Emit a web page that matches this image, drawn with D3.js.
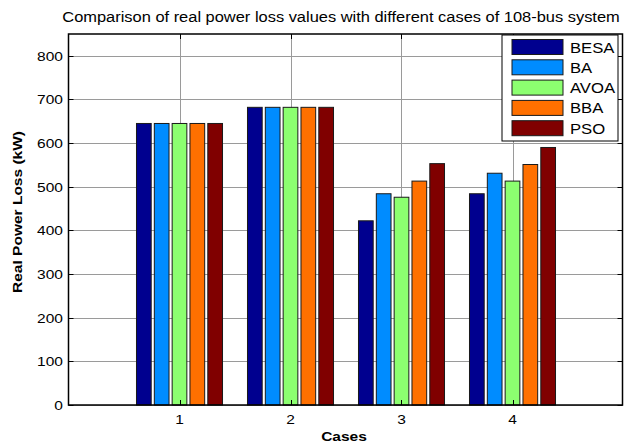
<!DOCTYPE html>
<html>
<head>
<meta charset="utf-8">
<script src="https://cdn.jsdelivr.net/npm/d3@7"></script>
<style>
  html, body { margin: 0; padding: 0; background: #fff; }
  svg { display: block; font-family: "Liberation Sans", Arial, sans-serif; }
</style>
</head>
<body>
<svg id="chart" width="624" height="444"></svg>
<script>
// Real power loss (kW) per case for each algorithm
const cases = [1, 2, 3, 4];
const series = ["BESA", "BA", "AVOA", "BBA", "PSO"];
const besa = [645, 682, 422, 484];
const ba   = [645, 682, 484, 531];
const avoa = [645, 682, 476, 513];
const bba  = [645, 682, 513, 551];
const pso  = [645, 682, 553, 590];
const yTicks = [0, 100, 200, 300, 400, 500, 600, 700, 800];
const colors = ["#00008f", "#008cff", "#8cff70", "#ff7000", "#800000"];

const values = [besa, ba, avoa, bba, pso];

const svg = d3.select("#chart");
const plotL = 68.5, plotR = 622.5, plotT = 34, plotB = 405;
const SX = 1.15; // horizontal text stretch

const x = d3.scaleLinear().domain([0, 5]).range([plotL, plotL + 555]);
const y = d3.scaleLinear().domain([0, 850]).range([plotB, plotT]);

// position of each series inside a group, in case units
const inner = d3.scaleBand().domain(series).range([-0.3875, 0.3875]).paddingInner(0.175).paddingOuter(0);

function stretchedText(g, str, px, py, size, anchor, weight) {
  return g.append("text")
    .attr("transform", `translate(${px},${py}) scale(${SX},1)`)
    .attr("text-anchor", anchor)
    .attr("font-size", size)
    .attr("font-weight", weight || "normal")
    .attr("fill", "#000")
    .text(str);
}

// plot background
svg.append("rect").attr("x", plotL).attr("y", plotT)
  .attr("width", plotR - plotL).attr("height", plotB - plotT).attr("fill", "#fff");

// grid
const grid = svg.append("g").attr("stroke", "#9a9a9a").attr("stroke-width", 1);
yTicks.forEach(t => {
  grid.append("line").attr("x1", plotL).attr("x2", plotR)
    .attr("y1", Math.round(y(t)) + 0.5).attr("y2", Math.round(y(t)) + 0.5);
});
cases.forEach(c => {
  grid.append("line").attr("x1", Math.round(x(c)) + 0.5).attr("x2", Math.round(x(c)) + 0.5)
    .attr("y1", plotT).attr("y2", plotB);
});

// bars
const bars = svg.append("g");
series.forEach((s, si) => {
  bars.selectAll(null).data(cases).enter().append("rect")
    .attr("x", c => x(c + inner(s)))
    .attr("width", x(inner.bandwidth()) - x(0))
    .attr("y", (c, ci) => y(values[si][ci]))
    .attr("height", (c, ci) => y(0) - y(values[si][ci]))
    .attr("fill", colors[si])
    .attr("stroke", "#1a1a1a")
    .attr("stroke-width", 1);
});

// axes box and inward ticks
const ax = svg.append("g").attr("stroke", "#000");
ax.append("rect").attr("x", plotL).attr("y", plotT)
  .attr("width", plotR - plotL).attr("height", plotB - plotT)
  .attr("fill", "none").attr("stroke-width", 1.5);
yTicks.forEach(t => {
  const yy = Math.round(y(t)) + 0.5;
  ax.append("line").attr("x1", plotL).attr("x2", plotL + 5).attr("y1", yy).attr("y2", yy);
  ax.append("line").attr("x1", plotR - 5).attr("x2", plotR).attr("y1", yy).attr("y2", yy);
});
cases.forEach(c => {
  const xx = Math.round(x(c)) + 0.5;
  ax.append("line").attr("x1", xx).attr("x2", xx).attr("y1", plotT).attr("y2", plotT + 5);
  ax.append("line").attr("x1", xx).attr("x2", xx).attr("y1", plotB).attr("y2", plotB - 5);
});

// tick labels
const labels = svg.append("g");
yTicks.forEach(t => stretchedText(labels, String(t), 63, y(t) + 5, 13.5, "end"));
cases.forEach(c => stretchedText(labels, String(c), x(c), 424, 13.5, "middle"));

// title and axis titles
stretchedText(svg, "Comparison of real power loss values with different cases of 108-bus system", 341, 22, 14.3, "middle");
stretchedText(svg, "Cases", 344, 441, 13.5, "middle", "bold");
svg.append("text")
  .attr("transform", `translate(22,212) rotate(-90) scale(${SX},1)`)
  .attr("text-anchor", "middle").attr("font-size", 13.5).attr("font-weight", "bold")
  .text("Real Power Loss (kW)");

// legend
const lg = svg.append("g");
lg.append("rect").attr("x", 502).attr("y", 35).attr("width", 116).attr("height", 106)
  .attr("fill", "#fff").attr("stroke", "#000").attr("stroke-width", 1);
series.forEach((s, i) => {
  const cy = 47 + i * 20.3;
  lg.append("rect").attr("x", 512).attr("y", cy - 7.5).attr("width", 51).attr("height", 15)
    .attr("fill", colors[i]).attr("stroke", "#1a1a1a").attr("stroke-width", 1);
  stretchedText(lg, s, 570, cy + 5.5, 14.5, "start");
});
</script>
</body>
</html>
